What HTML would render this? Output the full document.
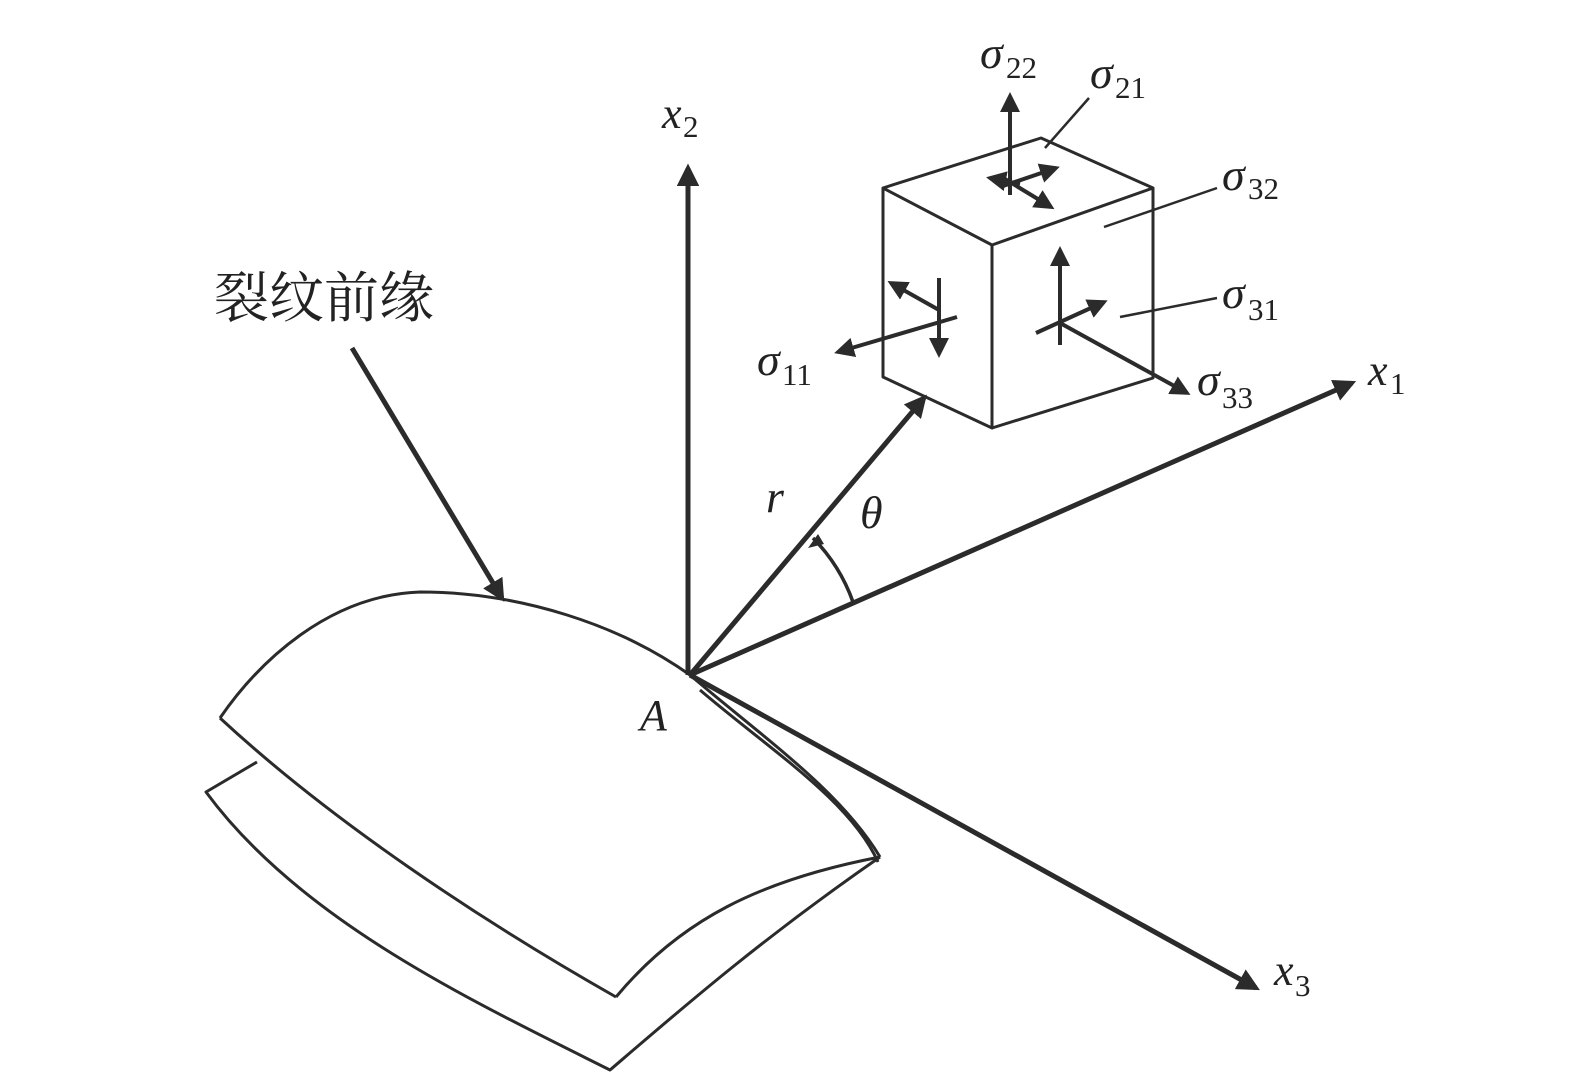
<!DOCTYPE html>
<html><head><meta charset="utf-8"><style>html,body{margin:0;padding:0;background:#fff}svg{display:block}</style></head>
<body>
<svg width="1575" height="1076" viewBox="0 0 1575 1076" xmlns="http://www.w3.org/2000/svg">
<defs>
<marker id="ah" viewBox="0 0 10 10" refX="8" refY="5" markerWidth="4.5" markerHeight="4.5" orient="auto" markerUnits="strokeWidth">
<path d="M0,0 L10,5 L0,10 z" fill="#2b2b2b"/></marker>
<marker id="ah2" viewBox="0 0 10 10" refX="8" refY="5" markerWidth="5" markerHeight="5" orient="auto" markerUnits="strokeWidth">
<path d="M0,0 L10,5 L0,10 z" fill="#2b2b2b"/></marker>
</defs>
<g fill="none" stroke="#2b2b2b" stroke-linejoin="round">
<path d="M220,718 C260,660 330,595 420,592 C520,592 620,625 690,675" stroke-width="3"/>
<path d="M690,675 C760,735 840,790 880,857" stroke-width="3"/>
<path d="M880,857 C760,880 680,920 616,997" stroke-width="3"/>
<path d="M220,718 C330,820 480,920 616,997" stroke-width="3"/>
<path d="M257,762 L206,792 C300,920 470,1000 610,1070 C680,1010 760,940 880,857" stroke-width="3"/>
<path d="M700,690 C770,750 850,800 878,862" stroke-width="3"/>
<line x1="688" y1="675" x2="688" y2="168" stroke-width="5" marker-end="url(#ah)"/>
<line x1="690" y1="675" x2="1352" y2="383" stroke-width="5" marker-end="url(#ah)"/>
<line x1="690" y1="675" x2="1256" y2="988" stroke-width="5" marker-end="url(#ah)"/>
<line x1="690" y1="675" x2="924" y2="398" stroke-width="5" marker-end="url(#ah)"/>
<line x1="352" y1="348" x2="502" y2="598" stroke-width="5" marker-end="url(#ah)"/>
<path d="M813,538 A175,175 0 0 1 853,602" stroke-width="3.5"/>
<path d="M808,548 l10,-14 l6,10 z" fill="#2b2b2b" stroke="none"/>
<path d="M883,188 L1041,138 L1153,188 L992,245 Z" stroke-width="3"/>
<path d="M883,188 L883,377 L992,428 L992,245" stroke-width="3"/>
<path d="M992,428 L1153,378 L1153,188" stroke-width="3"/>
<line x1="1010" y1="195" x2="1010" y2="96" stroke-width="4" marker-end="url(#ah2)"/>
<line x1="1003" y1="186" x2="1056" y2="168" stroke-width="4" marker-end="url(#ah2)"/>
<line x1="1000" y1="176" x2="1051" y2="207" stroke-width="4" marker-end="url(#ah2)"/>
<line x1="1020" y1="184" x2="990" y2="178" stroke-width="4" marker-end="url(#ah2)"/>
<line x1="1089" y1="98" x2="1045" y2="148" stroke-width="2.5"/>
<line x1="1217" y1="188" x2="1104" y2="227" stroke-width="2.5"/>
<line x1="1217" y1="298" x2="1120" y2="317" stroke-width="2.5"/>
<line x1="1060" y1="345" x2="1060" y2="250" stroke-width="4" marker-end="url(#ah2)"/>
<line x1="1036" y1="333" x2="1104" y2="302" stroke-width="4" marker-end="url(#ah2)"/>
<line x1="1060" y1="323" x2="1187" y2="393" stroke-width="4" marker-end="url(#ah2)"/>
<line x1="957" y1="317" x2="838" y2="352" stroke-width="4" marker-end="url(#ah2)"/>
<line x1="939" y1="310" x2="891" y2="283" stroke-width="4" marker-end="url(#ah2)"/>
<line x1="939" y1="278" x2="939" y2="354" stroke-width="4" marker-end="url(#ah2)"/>
</g>
<g font-family="'Liberation Serif', serif" fill="#222" font-style="italic">
<text x="662" y="128" font-size="44">x</text>
<text x="1368" y="385" font-size="44">x</text>
<text x="1274" y="985" font-size="44">x</text>
<text x="766" y="512" font-size="46">r</text>
<text x="860" y="528" font-size="46">θ</text>
<text x="640" y="730" font-size="44">A</text>
<text x="980" y="68" font-size="46">σ</text>
<text x="1090" y="88" font-size="46">σ</text>
<text x="1222" y="190" font-size="46">σ</text>
<text x="1222" y="308" font-size="46">σ</text>
<text x="757" y="375" font-size="46">σ</text>
<text x="1197" y="395" font-size="46">σ</text>
</g>
<g font-family="'Liberation Serif', serif" fill="#222" font-size="31">
<text x="683" y="137">2</text>
<text x="1390" y="394">1</text>
<text x="1295" y="996">3</text>
<text x="1006" y="78">22</text>
<text x="1115" y="98">21</text>
<text x="1248" y="199">32</text>
<text x="1248" y="320">31</text>
<text x="782" y="385">11</text>
<text x="1222" y="408">33</text>
</g>
<text x="214" y="317" font-family="'Liberation Serif','Noto Serif CJK SC',serif" font-size="55" fill="#222">裂纹前缘</text>
</svg>
</body></html>
